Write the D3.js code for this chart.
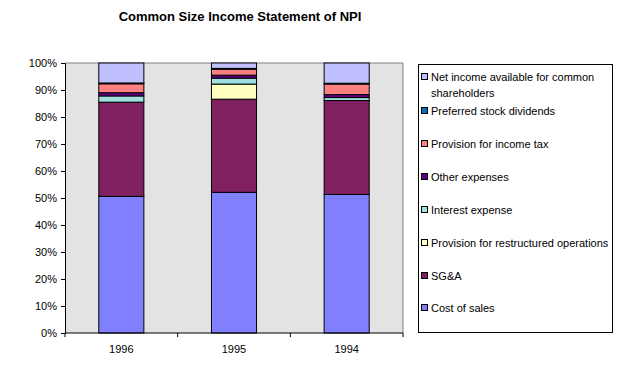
<!DOCTYPE html>
<html>
<head>
<meta charset="utf-8">
<script src="https://cdn.jsdelivr.net/npm/d3@7"></script>
<style>
  body { margin: 0; background: #fff; }
  text { font-family: Arial, "Liberation Sans", sans-serif; fill: #000; }
</style>
</head>
<body>
<script>
// years on the x axis
var years = ["1996", "1995", "1994"];

// series, bottom of the stack first
var seriesNames = ["Cost of sales", "SG&A", "Provision for restructured operations",
    "Interest expense", "Other expenses", "Provision for income tax",
    "Preferred stock dividends", "Net income available for common shareholders"];

// percent of sales, per year (1996, 1995, 1994)
var costOfSales   = [50.6, 52.1, 51.3];
var sga           = [34.9, 34.5, 34.8];
var restructuring = [0.0, 5.6, 0.0];
var interest      = [2.3, 2.2, 1.1];
var otherExp      = [1.2, 1.1, 1.1];
var incomeTax     = [3.3, 2.2, 3.9];
var preferred     = [0.3, 0.3, 0.3];
var netIncome     = [7.4, 2.0, 7.5];

var yTicks = [0, 0.1, 0.2, 0.3, 0.4, 0.5, 0.6, 0.7, 0.8, 0.9, 1];

var colors = ["#8080ff", "#802060", "#ffffc0", "#a0e0e0", "#600080", "#ff8080", "#0070c0", "#c0c0ff"];

var allSeries = [costOfSales, sga, restructuring, interest, otherExp, incomeTax, preferred, netIncome];

// build rows for d3.stack
var data = years.map(function(y, i) {
    var row = {year: y};
    seriesNames.forEach(function(s, j) { row[s] = allSeries[j][i]; });
    return row;
});

var margin = {top: 63, right: 216, bottom: 42, left: 65},
    width = 619 - margin.left - margin.right,
    height = 375 - margin.top - margin.bottom;

var svg = d3.select("body").append("svg")
    .attr("width", 619)
    .attr("height", 375);

// title
svg.append("text")
    .attr("x", 240)
    .attr("y", 21)
    .attr("text-anchor", "middle")
    .style("font-size", "13px")
    .style("font-weight", "bold")
    .text("Common Size Income Statement of NPI");

var g = svg.append("g")
    .attr("transform", "translate(" + margin.left + "," + margin.top + ")");

var xScale = d3.scaleBand().domain(years).range([0, width]).paddingInner(0.6).paddingOuter(0.3);
var xOuter = d3.scaleBand().domain(years).range([0, width]);
var yScale = d3.scaleLinear().domain([0, 1]).range([height, 0]);

var stack = d3.stack().keys(seriesNames).offset(d3.stackOffsetExpand);
var stacked = stack(data);

// plot background
g.append("rect")
    .attr("width", width)
    .attr("height", height)
    .attr("fill", "#e3e3e3");

// top border of plot area
g.append("line")
    .attr("x1", 0).attr("x2", width)
    .attr("y1", 0).attr("y2", 0)
    .attr("stroke", "#808080");
g.append("line")
    .attr("x1", width).attr("x2", width)
    .attr("y1", 0).attr("y2", height)
    .attr("stroke", "#808080");

// bars
g.selectAll("g.layer")
    .data(stacked)
    .enter().append("g")
    .attr("class", "layer")
    .attr("fill", function(d, i) { return colors[i]; })
    .selectAll("rect")
    .data(function(d) { return d; })
    .enter().append("rect")
    .attr("x", function(d) { return xScale(d.data.year); })
    .attr("width", xScale.bandwidth())
    .attr("y", function(d) { return yScale(d[1]); })
    .attr("height", function(d) { return yScale(d[0]) - yScale(d[1]); })
    .attr("stroke", "#000")
    .attr("stroke-width", 1);

// y axis
var yAxis = g.append("g")
    .call(d3.axisLeft(yScale)
        .tickValues(yTicks)
        .tickSize(4)
        .tickFormat(d3.format(".0%")));
yAxis.select(".domain").attr("stroke", "#000");
yAxis.selectAll("text").style("font-size", "11px").attr("x", -8);

// x axis with ticks between the categories
var xAxis = g.append("g")
    .attr("transform", "translate(0," + height + ")");
xAxis.append("line")
    .attr("x1", 0).attr("x2", width)
    .attr("stroke", "#000");
var boundaries = years.map(function(y) { return xOuter(y); }).concat([width]);
xAxis.selectAll("line.tick")
    .data(boundaries)
    .enter().append("line")
    .attr("class", "tick")
    .attr("x1", function(d) { return d; })
    .attr("x2", function(d) { return d; })
    .attr("y1", 0).attr("y2", 4)
    .attr("stroke", "#000");
xAxis.selectAll("text")
    .data(years)
    .enter().append("text")
    .attr("x", function(d) { return xOuter(d) + xOuter.bandwidth() / 2; })
    .attr("y", 20)
    .attr("text-anchor", "middle")
    .style("font-size", "11px")
    .text(function(d) { return d; });

// legend, top entry is the top of the stack
var legend = svg.append("g").attr("transform", "translate(418,64)");
legend.append("rect")
    .attr("x", 0.5).attr("y", 0.5)
    .attr("width", 194).attr("height", 268)
    .attr("fill", "#fff")
    .attr("stroke", "#000");

var legendItems = seriesNames.slice().reverse();
var legendY = [13, 47, 80, 113, 146, 179, 212, 244];
legendItems.forEach(function(name, i) {
    var item = legend.append("g").attr("transform", "translate(0," + legendY[i] + ")");
    item.append("rect")
        .attr("x", 3.5).attr("y", -3.5)
        .attr("width", 6).attr("height", 6)
        .attr("fill", colors[colors.length - 1 - i])
        .attr("stroke", "#000");
    var t = item.append("text")
        .attr("x", 13)
        .attr("y", 4)
        .style("font-size", "11px");
    if (name === "Net income available for common shareholders") {
        t.append("tspan").attr("x", 13).text("Net income available for common");
        t.append("tspan").attr("x", 13).attr("dy", 16).text("shareholders");
    } else {
        t.text(name);
    }
});
</script>
</body>
</html>
